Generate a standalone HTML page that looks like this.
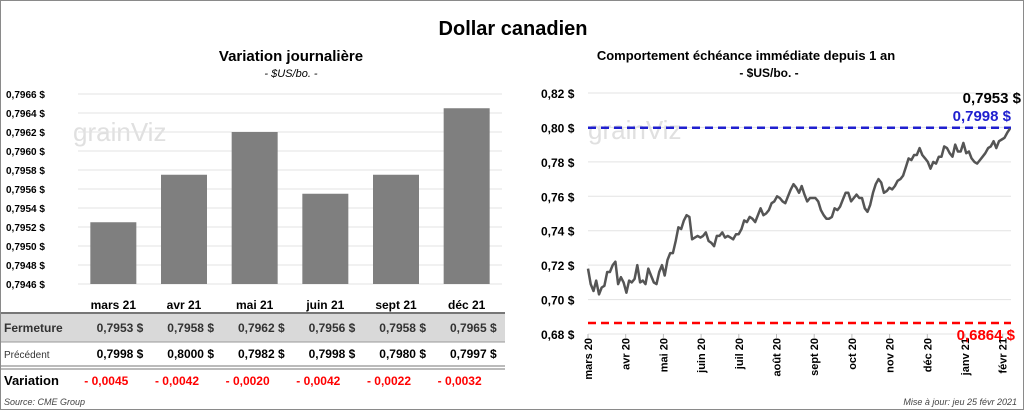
<!DOCTYPE html>
<html><head><meta charset="utf-8"><style>
body{margin:0;background:#fff;}
#wrap{position:relative;width:1022px;height:408px;border:1px solid #8a8a8a;overflow:hidden;font-family:"Liberation Sans",sans-serif;}
svg text{font-family:"Liberation Sans",sans-serif;}
</style></head><body>
<div id="wrap">
<svg id="s" width="1022" height="408">
<text x="512" y="34" text-anchor="middle" font-size="20" font-weight="bold">Dollar canadien</text>
<text x="290" y="60" text-anchor="middle" font-size="15" font-weight="bold">Variation  journalière</text>
<text x="290" y="76" text-anchor="middle" font-size="11" font-style="italic">- $US/bo. -</text>
<text x="745" y="59" text-anchor="middle" font-size="13" font-weight="bold">Comportement échéance immédiate depuis 1 an</text>
<text x="768" y="76" text-anchor="middle" font-size="12" font-weight="bold">- $US/bo. -</text>
<text x="72" y="140" font-size="26" fill="#e0e0e0">grainViz</text>
<text x="587" y="138" font-size="26" fill="#e0e0e0">grainViz</text>
<g id="table">
<rect x="0" y="312" width="504" height="29" fill="#d9d9d9"/>
<line x1="0" y1="312" x2="504" y2="312" stroke="#777" stroke-width="2"/>
<line x1="0" y1="341" x2="504" y2="341" stroke="#999"/>
<line x1="0" y1="365" x2="504" y2="365" stroke="#777"/>
<line x1="0" y1="368" x2="504" y2="368" stroke="#777"/>
<text x="3" y="331" font-size="12" font-weight="bold" fill="#333">Fermeture</text>
<text x="3" y="357" font-size="10" fill="#333">Précédent</text>
<text x="3" y="384" font-size="13" font-weight="bold">Variation</text>
<text x="3" y="404" font-size="9" font-style="italic" fill="#444">Source: CME Group</text>
</g>
<g id="left"></g><g id="right"></g>
<text x="1016" y="404" text-anchor="end" font-size="9" font-style="italic" fill="#444">Mise à jour: jeu 25 févr 2021</text>
</svg>
</div>
<script>
const barCats=["mars 21","avr 21","mai 21","juin 21","sept 21","déc 21"];
const barVals=[0.79525,0.79575,0.7962,0.79555,0.79575,0.79645];
const closeVals=["0,7953","0,7958","0,7962","0,7956","0,7958","0,7965"];
const prevVals=["0,7998","0,8000","0,7982","0,7998","0,7980","0,7997"];
const varVals=["- 0,0045","- 0,0042","- 0,0020","- 0,0042","- 0,0022","- 0,0032"];
const leftTicks=[0.7946,0.7948,0.7950,0.7952,0.7954,0.7956,0.7958,0.7960,0.7962,0.7964,0.7966];
const rightTicks=[0.68,0.70,0.72,0.74,0.76,0.78,0.80,0.82];
const monthLabels=["mars 20","avr 20","mai 20","juin 20","juil 20","août 20","sept 20","oct 20","nov 20","déc 20","janv 21","févr 21"];
const lineVals=[.718,.709,.705,.711,.703,.707,.708,.716,.716,.720,.722,.709,.713,.710,.704,.711,.710,.712,.720,.710,.711,.709,.718,.714,.710,.709,.716,.720,.714,.723,.727,.727,.734,.742,.741,.746,.749,.748,.735,.736,.737,.736,.737,.739,.734,.733,.731,.737,.737,.739,.736,.737,.736,.735,.738,.738,.741,.746,.745,.748,.747,.745,.749,.753,.749,.750,.752,.756,.757,.760,.759,.757,.756,.760,.764,.767,.765,.762,.766,.761,.757,.759,.759,.759,.757,.752,.749,.747,.747,.748,.753,.752,.754,.758,.762,.762,.757,.759,.761,.759,.759,.753,.751,.755,.762,.767,.770,.768,.762,.763,.765,.764,.766,.769,.770,.772,.777,.782,.781,.784,.784,.788,.784,.782,.780,.776,.780,.779,.783,.783,.789,.788,.785,.783,.790,.786,.786,.791,.785,.786,.782,.780,.779,.781,.783,.785,.788,.789,.792,.788,.792,.793,.794,.797,.7993];
const lastClose=0.7953, prevClose=0.7998, yearLow=0.6864;
const NS="http://www.w3.org/2000/svg";
function mk(p,tag,a){const e=document.createElementNS(NS,tag);for(const k in a)e.setAttribute(k,a[k]);p.appendChild(e);return e;}
function fmt(v,d){return v.toFixed(d).replace('.',',')+' $';}
// left chart
const L=document.getElementById('left');
const lx0=77,lx1=501,ly0=283,ly1=93;
const ly=v=>ly0+(v-0.7946)/(0.7966-0.7946)*(ly1-ly0);
const band=(lx1-lx0)/barCats.length;
leftTicks.forEach(t=>{
 const g=mk(L,'line',{x1:lx0,x2:lx1,y1:ly(t),y2:ly(t),stroke:'#e3e3e3'});
 
 
 const tx=mk(L,'text',{x:5,y:ly(t)+4,'font-size':10,'font-weight':'bold'});tx.textContent=fmt(t,4);
 
 
});
barVals.forEach((v,i)=>{
 const cx=lx0+band*(i+.5);
 const r=mk(L,'rect',{x:cx-23,y:ly(v),width:46,height:ly0-ly(v),fill:'#7f7f7f'});
 
 
 const c=mk(L,'text',{x:cx,y:308,'text-anchor':'middle','font-size':12,'font-weight':'bold'});c.textContent=barCats[i];
 
 
 const a=mk(L,'text',{x:cx+30,y:331,'text-anchor':'end','font-size':12,'font-weight':'bold',fill:'#333'});a.textContent=closeVals[i]+'  $';
 
 
 const b=mk(L,'text',{x:cx+30,y:357,'text-anchor':'end','font-size':12,'font-weight':'bold'});b.textContent=prevVals[i]+'  $';
 
 
 const d=mk(L,'text',{x:cx+15,y:384,'text-anchor':'end','font-size':12,'font-weight':'bold',fill:'#f00'});d.textContent=varVals[i];
 
 
});
// right chart
const R=document.getElementById('right');
const rx0=587,rx1=1009,ry0=333,ry1=92;
const ry=v=>ry0+(v-0.68)/(0.82-0.68)*(ry1-ry0);
rightTicks.forEach(t=>{
 const g=mk(R,'line',{x1:rx0,x2:1010,y1:ry(t),y2:ry(t),stroke:'#e3e3e3'});
 
 
 const tx=mk(R,'text',{x:540,y:ry(t)+5,'font-size':12,'font-weight':'bold'});tx.textContent=fmt(t,2);
 
 
});
const mstep=37.7;
monthLabels.forEach((m,i)=>{
 const x=rx0+mstep*i;
 mk(R,'line',{x1:x,x2:x,y1:ry0,y2:ry0+4,stroke:'#bbb'});
 const t=mk(R,'text',{x:0,y:0,'text-anchor':'end','font-size':11,'font-weight':'bold',transform:`translate(${x+4},337) rotate(-90)`});t.textContent=m;
 
 
});
const bl=mk(R,'line',{x1:rx0,x2:1010,y1:ry(prevClose),y2:ry(prevClose),stroke:'#1f1fcf','stroke-width':2.5,'stroke-dasharray':'8 5'});


const rl=mk(R,'line',{x1:rx0,x2:1010,y1:ry(yearLow),y2:ry(yearLow),stroke:'#f00','stroke-width':2.5,'stroke-dasharray':'8 5'});


const pts=lineVals.map((v,i)=>(rx0+(rx1-rx0)*i/(lineVals.length-1)).toFixed(1)+','+ry(v).toFixed(1)).join(' ');
const pl=mk(R,'polyline',{points:pts,fill:'none',stroke:'#555','stroke-width':2.5,'stroke-linejoin':'round'});


const t1=mk(R,'text',{x:1020,y:102,'text-anchor':'end','font-size':15,'font-weight':'bold'});t1.textContent=fmt(lastClose,4);


const t2=mk(R,'text',{x:1010,y:120,'text-anchor':'end','font-size':15,'font-weight':'bold',fill:'#1f1fcf'});t2.textContent=prevClose.toFixed(4).replace('.',',')+'  $';


const t3=mk(R,'text',{x:1014,y:339,'text-anchor':'end','font-size':15,'font-weight':'bold',fill:'#f00'});t3.textContent=yearLow.toFixed(4).replace('.',',')+'  $';


</script>
</body></html>
